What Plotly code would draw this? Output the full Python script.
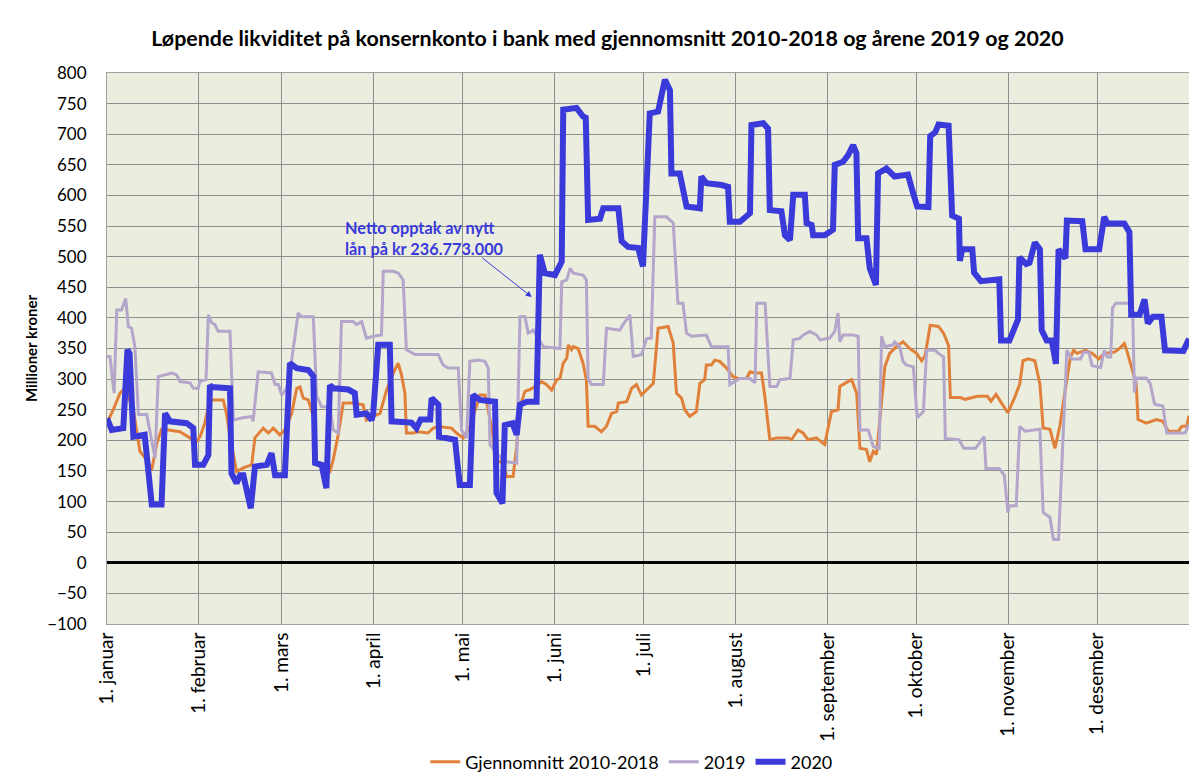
import plotly.graph_objects as go

# Day-of-year (0 = 1. januar) and values (millioner kroner)
avg_days = [0, 2.1, 4.4, 6, 8.9, 10, 11.1, 13.4, 15.1, 16.8, 18.4, 20.7, 24.6, 28, 29.7, 31.4, 33, 34.7, 39.2, 40.3,
            41.5, 43.7, 46, 48.8, 49.9, 52.7, 54.4, 56.1, 58.3, 60, 62.3, 64, 65.1, 66.2, 67.9, 69.6, 70.7, 72.4, 75.2, 76.3,
            78, 79.7, 83, 86.4, 87.5, 89.8, 92.1, 94.3, 96.6, 98.2, 99.3, 100.5, 101, 103.2, 104.9, 108.3, 110, 112.3, 116.2, 117.9,
            120.2, 122.4, 125.8, 127.5, 128.6, 130.3, 130.9, 133.7, 134.8, 137, 138.2, 139.3, 141, 142.7, 145.5, 146.6, 148.3, 150, 151.7, 152.8,
            153.9, 155.1, 155.6, 156.7, 157.3, 158.9, 160.6, 161.7, 162.3, 164.5, 166.8, 168.5, 170.2, 171.9, 172.5, 175.3, 177, 178.6, 180.3, 182.6,
            184.3, 185.9, 189.3, 191, 192.1, 193.8, 194.9, 196.6, 198.8, 200, 201.6, 202.2, 203.9, 205, 206.7, 209, 211.2, 212.9, 215.7, 216.9,
            218.6, 220.8, 221.9, 223.6, 225.9, 229.8, 230.9, 233.1, 234.8, 236.5, 239.3, 242.1, 244.4, 246.6, 247.2, 248.9, 251.2, 252.9, 254, 256.2,
            257.3, 258.5, 259.6, 260.7, 262.4, 264, 266.3, 268.5, 270.8, 273.1, 274.8, 276, 277.7, 280.5, 282.2, 283.9, 284.5, 287.9, 289.5, 293.6,
            297, 298.2, 299.9, 301.6, 303.9, 306.2, 307.9, 309, 310.8, 313, 314.7, 315.8, 318.1, 319.8, 321.5, 323.2, 325, 326.1, 327.2, 330.1,
            332.3, 334.6, 336.4, 339.8, 341.5, 343.2, 344.3, 347.2, 347.8, 350.6, 354, 356.2, 358, 361.4, 362.6, 364.2, 365]
avg_vals = [228, 250, 277, 285, 250, 217, 182, 168, 152, 195, 218, 217, 214, 204, 195, 206, 228, 266, 266, 244,
            206, 149, 155, 160, 204, 220, 212, 220, 209, 217, 244, 285, 287, 269, 266, 239, 160, 157, 149, 168,
            209, 261, 261, 258, 233, 239, 244, 282, 310, 326, 308, 277, 212, 212, 214, 212, 220, 222, 220, 212,
            204, 222, 274, 274, 250, 206, 168, 163, 141, 141, 190, 255, 280, 283, 291, 296, 291, 282, 299, 301,
            326, 334, 356, 348, 353, 350, 326, 299, 223, 223, 214, 223, 244, 247, 261, 263, 285, 291, 274, 285,
            293, 383, 386, 359, 277, 269, 250, 239, 247, 293, 299, 323, 323, 331, 329, 318, 304, 301, 301, 312,
            310, 310, 272, 201, 204, 204, 201, 217, 212, 201, 204, 193, 247, 250, 288, 293, 299, 277, 187, 185,
            165, 182, 177, 233, 320, 342, 353, 361, 350, 342, 330, 339, 388, 386, 375, 355, 270, 270, 267, 272,
            272, 264, 275, 262, 245, 270, 292, 330, 333, 330, 292, 220, 218, 187, 225, 281, 336, 347, 342, 347,
            342, 333, 342, 344, 350, 358, 342, 292, 234, 228, 234, 231, 215, 215, 223, 223, 240]

y2019_days = [0, 1, 2.4, 3.3, 4.9, 6.3, 7.2, 8.3, 9.4, 10.6, 13.4, 16.2, 17.3, 20.1, 21.8, 23.5, 24.6, 28, 29.1, 30.8,
              31.3, 33.4, 34.2, 35.3, 36.4, 37.5, 41.5, 42.6, 44.9, 48.8, 49.3, 51, 55.5, 56.7, 57.8, 58.9, 60.6, 62.3, 64.5, 65.6,
              69.6, 70.7, 72.4, 75.2, 76.3, 78, 79.1, 83, 84.2, 85.9, 87.5, 89.8, 92.6, 93.2, 96.6, 98.3, 99.9, 101, 103.9, 111.7,
              113.4, 115.1, 118.5, 119.6, 121.3, 122.4, 125.2, 127.5, 128.6, 129.2, 132, 134.2, 138.2, 139.3, 141, 142.1, 143.8, 147.2, 152.8, 153.4,
              155.1, 156.2, 157.3, 160.6, 161.7, 162.3, 163.4, 167.4, 168.5, 173, 174.1, 176.4, 177.5, 180.3, 182, 183.6, 184.8, 188.7, 191, 192.6,
              194.3, 195.5, 197.2, 202.2, 203.9, 209.5, 210.1, 213.5, 216.9, 218.6, 219.2, 222, 223.6, 225.9, 227, 230.4, 231.5, 233.8, 234.9, 237.1,
              239.4, 240.5, 243.8, 245.5, 246.6, 247.2, 248.3, 251.7, 253.4, 254, 256.8, 258.5, 260.5, 261.3, 262.4, 265.2, 265.7, 267.4, 268.5, 269.6,
              272, 273.3, 275.4, 276.5, 279.4, 280.5, 282.2, 282.8, 287.4, 289, 293, 295.9, 296.5, 301, 302.7, 303.9, 304.4, 306.7, 307.9, 309.6,
              314.7, 315.8, 318.1, 319.3, 321, 322.1, 323.8, 325.5, 328.4, 329.5, 331.2, 332.3, 335.2, 336.4, 337.5, 338.6, 339.2, 340.3, 344.9, 346,
              346.6, 347.2, 350.6, 351.9, 353.4, 356.2, 357.5, 363.7, 364.8, 365]
y2019_vals = [337, 337, 277, 413, 413, 432, 386, 383, 353, 242, 242, 171, 304, 307, 310, 307, 296, 294, 285, 285,
              296, 299, 405, 392, 389, 378, 378, 233, 236, 239, 231, 312, 310, 291, 291, 274, 285, 331, 408, 402,
              402, 272, 255, 255, 217, 212, 394, 394, 389, 394, 367, 370, 372, 476, 476, 473, 462, 348, 340, 340,
              323, 318, 318, 217, 204, 329, 331, 329, 318, 193, 176, 165, 163, 402, 402, 375, 380, 353, 350, 459,
              462, 481, 473, 470, 462, 301, 291, 291, 383, 380, 389, 405, 337, 340, 366, 367, 565, 565, 555, 424,
              424, 375, 370, 372, 353, 353, 291, 301, 301, 294, 424, 424, 288, 288, 299, 301, 364, 367, 372, 378,
              372, 364, 367, 378, 408, 361, 372, 372, 370, 217, 217, 190, 187, 370, 353, 356, 361, 353, 329, 323,
              320, 237, 247, 347, 347, 342, 336, 203, 201, 187, 187, 206, 154, 154, 143, 82, 93, 93, 223, 215,
              218, 82, 74, 38, 38, 159, 347, 333, 333, 344, 344, 322, 319, 347, 336, 336, 416, 424, 424, 410,
              278, 302, 302, 293, 259, 256, 212, 212, 226, 226]

y2020_days = [0, 1.6, 5.5, 6.9, 7.6, 8.9, 12.7, 15.1, 18.4, 19.6, 21.2, 26.9, 29.1, 29.7, 32.5, 34.2, 34.7, 35.4, 41.5, 42,
              43.7, 44.9, 46, 48.5, 49.9, 53.9, 55.5, 56.7, 60, 61.7, 64, 67.9, 69.6, 70.2, 72.4, 74, 75.2, 76.5, 81.4, 83.6,
              84.2, 87.5, 89.3, 89.8, 91.5, 95.4, 96, 102.7, 104.4, 105.8, 109, 109.5, 111.8, 112, 117.4, 119, 122.4, 123.5, 125.8, 130.9,
              131.4, 133.4, 134.2, 136.8, 138.2, 139.3, 141.6, 144.9, 146, 147.7, 151.1, 153.4, 153.9, 157.8, 158.4, 160.6, 161.5, 162.3, 166.3, 167.4,
              172.5, 173.6, 175.8, 179.2, 180.8, 183.1, 185.9, 188.2, 189.9, 190.4, 193.2, 195.5, 200, 200.5, 202.2, 207.3, 209.5, 210.1, 213.5, 216.9,
              217.4, 221.4, 223, 223.6, 227.5, 228.7, 230.4, 231.5, 235.4, 236, 237.7, 238.2, 242.1, 244.9, 245.5, 248.3, 250, 251.7, 252.8, 253.4,
              256.2, 257.3, 259.4, 260.1, 262.9, 265.7, 270.2, 271.9, 273.3, 277.1, 277.7, 279.4, 280.5, 283.9, 285.1, 287.4, 287.7, 288.5, 291.9, 292.5,
              294.8, 301, 301.6, 304.4, 307.3, 307.8, 310.1, 311.2, 313, 314.7, 315.3, 317, 318.7, 320.1, 321, 323.3, 323.8, 329, 330.1, 334.7,
              336.4, 337.5, 343.2, 344.9, 345.5, 348.3, 350, 351.1, 352.9, 355.7, 356.9, 363.1, 364.2, 365]
y2020_vals = [236, 217, 220, 348, 342, 206, 209, 95, 95, 244, 231, 228, 220, 160, 160, 176, 290, 287, 285, 146,
              130, 143, 143, 89, 157, 160, 179, 143, 143, 326, 318, 315, 305, 163, 160, 122, 290, 285, 283, 277,
              242, 244, 233, 244, 356, 356, 231, 229, 220, 234, 234, 269, 258, 206, 201, 127, 127, 274, 266, 263,
              114, 97, 225, 228, 209, 258, 263, 263, 503, 473, 470, 492, 740, 741, 743, 729, 727, 560, 562, 579,
              579, 525, 516, 514, 484, 734, 737, 789, 772, 636, 636, 582, 579, 631, 620, 617, 614, 557, 557, 571,
              715, 718, 709, 576, 574, 535, 527, 601, 601, 555, 552, 535, 535, 544, 650, 655, 666, 682, 669, 530,
              530, 481, 454, 636, 644, 631, 634, 604, 582, 581, 697, 703, 716, 714, 567, 562, 493, 512, 512, 474,
              460, 463, 363, 363, 397, 499, 488, 490, 523, 512, 380, 363, 363, 325, 512, 497, 559, 558, 512, 512,
              565, 554, 554, 540, 405, 405, 430, 391, 402, 402, 347, 346, 361, 366]

month_days = [0, 31, 59, 90, 120, 151, 181, 212, 243, 273, 304, 334]
month_labels = ["1. januar", "1. februar", "1. mars", "1. april", "1. mai", "1. juni", "1. juli",
                "1. august", "1. september", "1. oktober", "1. november", "1. desember"]

FONT = "Lato, 'Open Sans', sans-serif"

fig = go.Figure()
fig.add_trace(go.Scatter(x=avg_days, y=avg_vals, mode="lines", name="Gjennomnitt 2010-2018",
                         line=dict(color="#E0803A", width=3)))
fig.add_trace(go.Scatter(x=y2019_days, y=y2019_vals, mode="lines", name="2019",
                         line=dict(color="#B4A5CB", width=3)))
fig.add_trace(go.Scatter(x=y2020_days, y=y2020_vals, mode="lines", name="2020",
                         line=dict(color="#3A3ADA", width=6)))

fig.add_annotation(x=79.5, y=567, xref="x", yref="y", xanchor="left", yanchor="top",
                   text="Netto opptak av nytt<br>lån på kr 236.773.000", showarrow=False, align="left",
                   font=dict(family=FONT, size=16.3, color="#3A3ADA", weight="bold"))
fig.add_annotation(x=143.3, y=434, ax=126.1, ay=500, xref="x", yref="y", axref="x", ayref="y",
                   text="", showarrow=True, arrowhead=2, arrowsize=1.2, arrowwidth=1, arrowcolor="#3A3ADA")

fig.update_layout(
    width=1197, height=778,
    margin=dict(l=99, r=16, t=65, b=162, autoexpand=False),
    paper_bgcolor="white", plot_bgcolor="#EBEEDE",
    font=dict(family=FONT, size=15, color="black"),
    title=dict(text="<b>Løpende likviditet på konsernkonto i bank med gjennomsnitt 2010-2018 og årene 2019 og 2020</b>",
               x=0.5008, xanchor="center", y=0.961, yanchor="middle",
               font=dict(family=FONT, size=21.4, color="black")),
    showlegend=True,
    legend=dict(orientation="h", x=0.485, xanchor="center", y=-0.2505, yanchor="middle",
                font=dict(family=FONT, size=18), bgcolor="rgba(0,0,0,0)"),
)
fig.update_xaxes(range=[0, 365], tickvals=month_days, ticktext=month_labels, tickangle=-90,
                 showgrid=True, gridcolor="#8F8F8F", gridwidth=1, zeroline=False,
                 showline=True, linecolor="#A0A0A0", linewidth=1, mirror=True, automargin=False,
                 ticks="", tickfont=dict(family=FONT, size=19))
fig.update_yaxes(range=[-100, 800], dtick=50, showgrid=True, gridcolor="#8F8F8F", gridwidth=1,
                 zeroline=True, zerolinecolor="black", zerolinewidth=2.5,
                 showline=True, linecolor="#A0A0A0", linewidth=1, mirror=True, automargin=False,
                 ticks="", tickfont=dict(family=FONT, size=17), ticklabelstandoff=16,
                 title=dict(text="<b>Millioner kroner</b>", font=dict(family=FONT, size=15), standoff=5))

fig.write_html("out.html")
